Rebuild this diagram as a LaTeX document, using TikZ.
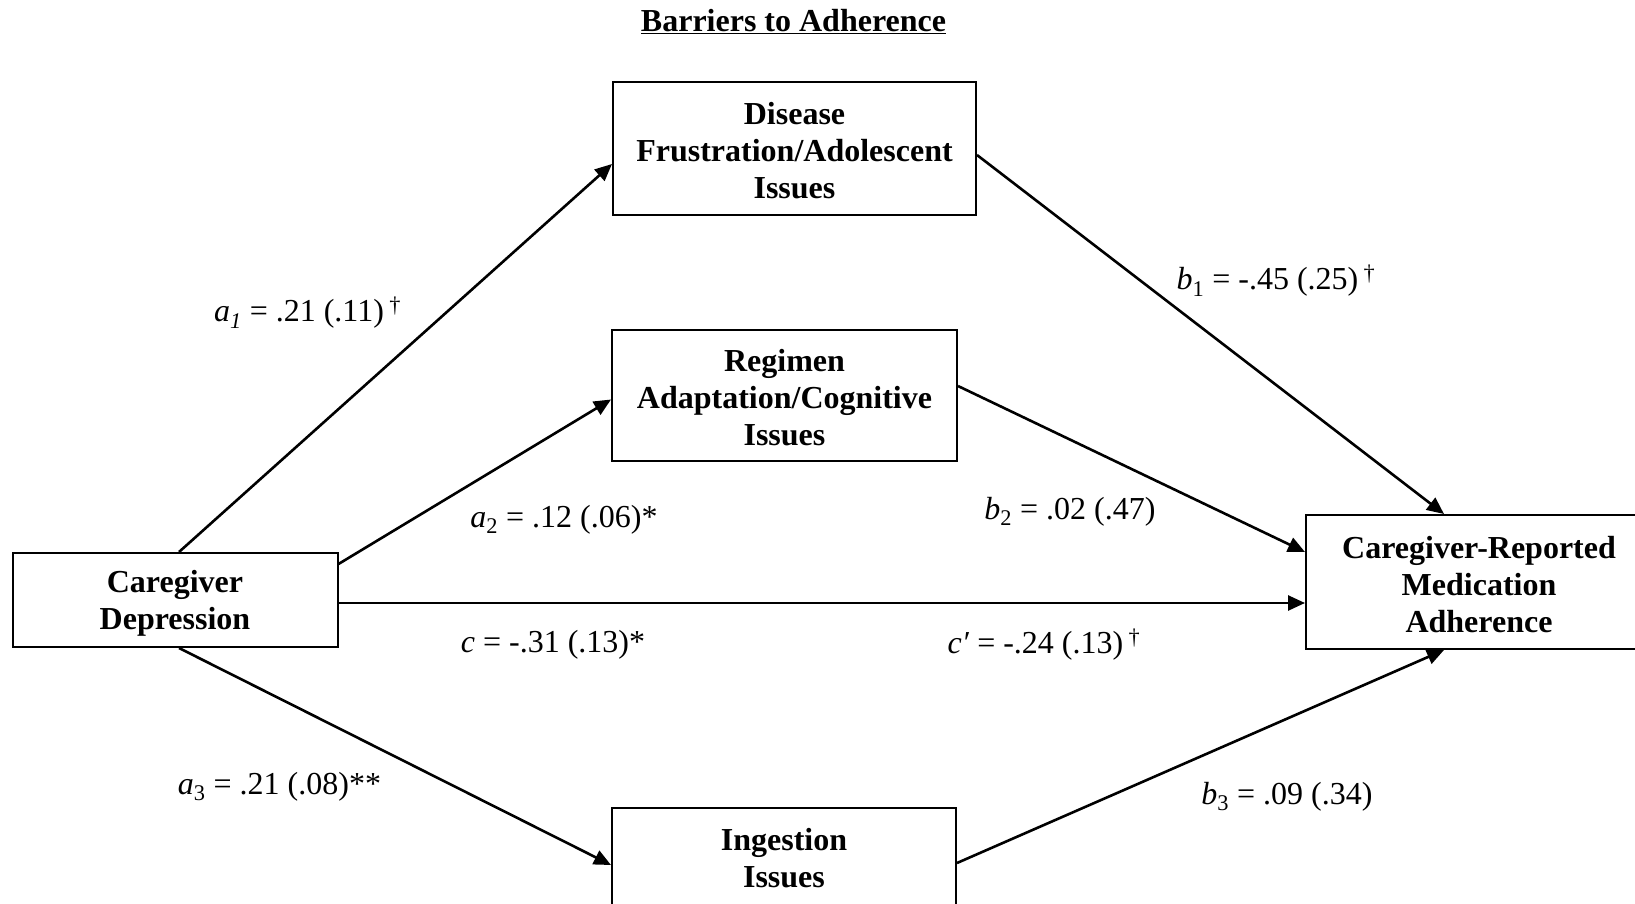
\documentclass[tikz,border=0pt]{standalone}
\usepackage{fontspec}
\setmainfont{Liberation Serif}
\usetikzlibrary{arrows.meta,calc}
\tikzset{
  boxnode/.style={draw, line width=2pt, inner sep=0pt},
  boxtext/.style={inner sep=0pt, align=center,
    font=\bfseries\fontsize{32}{37}\selectfont},
  pathlabel/.style={inner sep=0pt, font=\fontsize{32}{37}\selectfont},
  conn/.style={line width=2.6pt, -{Triangle[length=17pt,width=15pt]}}
}
\begin{document}
\begin{tikzpicture}[x=1pt,y=-1pt]
\clip (0,0) rectangle (1635,904);
\fill[white] (0,0) rectangle (1635,904);
\node[pathlabel, font=\bfseries\fontsize{32}{37}\selectfont] (title) at (793.5,22) {\underline{Barriers to Adherence}};
\node[boxnode, minimum width=363pt, minimum height=133pt] (dis) at (794.5,148.5) {};
\node[boxnode, minimum width=345pt, minimum height=131pt] (reg) at (784.5,395.5) {};
\node[boxnode, minimum width=325pt, minimum height=94pt] (dep) at (175,600) {};
\node[boxnode, minimum width=346pt, minimum height=134pt] (out) at (1479,582) {};
\node[boxnode, minimum width=344pt, minimum height=97pt] (ing) at (784,856.5) {};
\node[boxtext] (distext) at ($(dis.center)+(0,2)$) {Disease\\Frustration/Adolescent\\Issues};
\node[boxtext] (regtext) at ($(reg.center)+(0,2)$) {Regimen\\Adaptation/Cognitive\\Issues};
\node[boxtext] (deptext) at ($(dep.center)+(0,3)$) {Caregiver\\Depression};
\node[boxtext] (outtext) at ($(out.center)+(0,2.5)$) {Caregiver-Reported\\Medication\\Adherence};
\node[boxtext] (ingtext) at ($(ing.center)+(0,1.5)$) {Ingestion\\Issues};
\draw[conn] ($(dep.north)+(4,0)$) -- ($(dis.west)+(0,15.5)$);
\draw[conn] ($(dep.east)+(0,-36)$) -- ($(reg.west)+(0,4)$);
\draw[conn] ($(dep.east)+(0,3)$) -- ($(dep.east -| out.west)+(0,3)$);
\draw[conn] ($(dep.south)+(4,0)$) -- ($(ing.west)+(0,8.5)$);
\draw[conn] ($(dis.east)+(0,6.5)$) -- ($(out.north)+(-35,0)$);
\draw[conn] ($(reg.east)+(0,-9.5)$) -- ($(out.west)+(0,-30)$);
\draw[conn] ($(ing.east)+(0,6.5)$) -- ($(out.south)+(-35,0)$);
\node[pathlabel] (la1) at (307.5,313) {\textit{a\textsubscript{1}} = .21 (.11)\,\textsuperscript{†}};
\node[pathlabel] (la2) at (564,520) {\textit{a}\textsubscript{2} = .12 (.06)*};
\node[pathlabel] (lc) at (553,645) {\textit{c} = -.31 (.13)*};
\node[pathlabel] (la3) at (279.5,787) {\textit{a}\textsubscript{3} = .21 (.08)**};
\node[pathlabel] (lb1) at (1276,281) {\textit{b}\textsubscript{1} = -.45 (.25)\,\textsuperscript{†}};
\node[pathlabel] (lb2) at (1070,512) {\textit{b}\textsubscript{2} = .02 (.47)};
\node[pathlabel] (lcp) at (1044,645) {\textit{c′} = -.24 (.13)\,\textsuperscript{†}};
\node[pathlabel] (lb3) at (1287,797) {\textit{b}\textsubscript{3} = .09 (.34)};
\end{tikzpicture}
\end{document}
